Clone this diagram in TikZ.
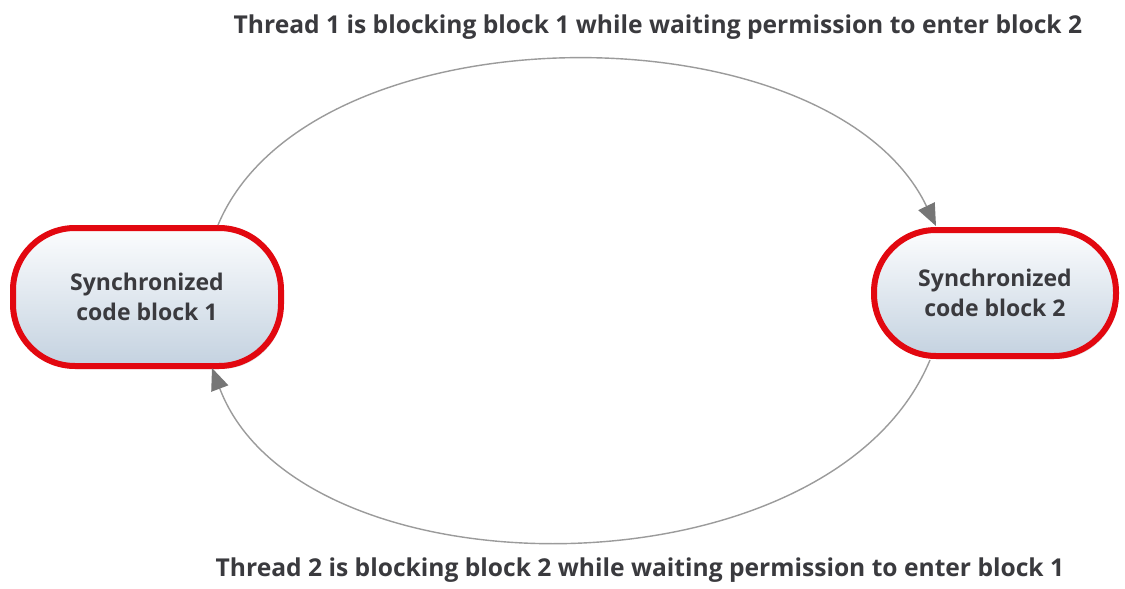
\documentclass[tikz,border=0pt]{standalone}
\usepackage{fontspec}
\setmainfont{Open Sans}
\usetikzlibrary{shadows,arrows.meta,calc}
\definecolor{boxred}{RGB}{226,8,16}
\definecolor{boxtop}{RGB}{252,253,254}
\definecolor{boxbot}{RGB}{196,210,224}
\definecolor{txtgray}{RGB}{58,58,62}
\definecolor{linegray}{RGB}{155,155,155}
\definecolor{tipgray}{RGB}{118,118,118}
\tikzset{
  syncbox/.style={draw=boxred, line width=6pt, rounded corners=62pt,
    top color=boxtop, bottom color=boxbot, text=txtgray,
    align=center, font=\fontsize{23}{30}\selectfont\bfseries,
    drop shadow={shadow xshift=2pt, shadow yshift=-3pt, opacity=0.25}},
  caption/.style={text=txtgray, anchor=base, inner sep=0pt,
    font=\fontsize{24.6}{28}\selectfont\bfseries},
  link/.style={draw=linegray, line width=1.4pt,
    -{Triangle[length=22pt,width=18pt,color=tipgray]}}
}
\begin{document}
\begin{tikzpicture}[x=1pt,y=-1pt]
\useasboundingbox[fill=white] (0,0) rectangle (1125,589);
\node[syncbox, minimum width=268pt, minimum height=138pt] (b1) at (147,297) {Synchronized\\code block 1};
\node[syncbox, minimum width=242pt, minimum height=126pt] (b2) at (995,293) {Synchronized\\code block 2};
\node[caption] (t1) at (658,33) {Thread 1 is blocking block 1 while waiting permission to enter block 2};
\node[caption] (t2) at (640,576) {Thread 2 is blocking block 2 while waiting permission to enter block 1};
\draw[link] ($(b1.north)+(71,0)$) .. controls (310,5) and (830,5) .. ($(b2.north)+(-59,-1)$);
\draw[link] ($(b2.south)+(-65,1)$) .. controls (830,600) and (300,600) .. ($(b1.south)+(65,-1)$);
\end{tikzpicture}
\end{document}
